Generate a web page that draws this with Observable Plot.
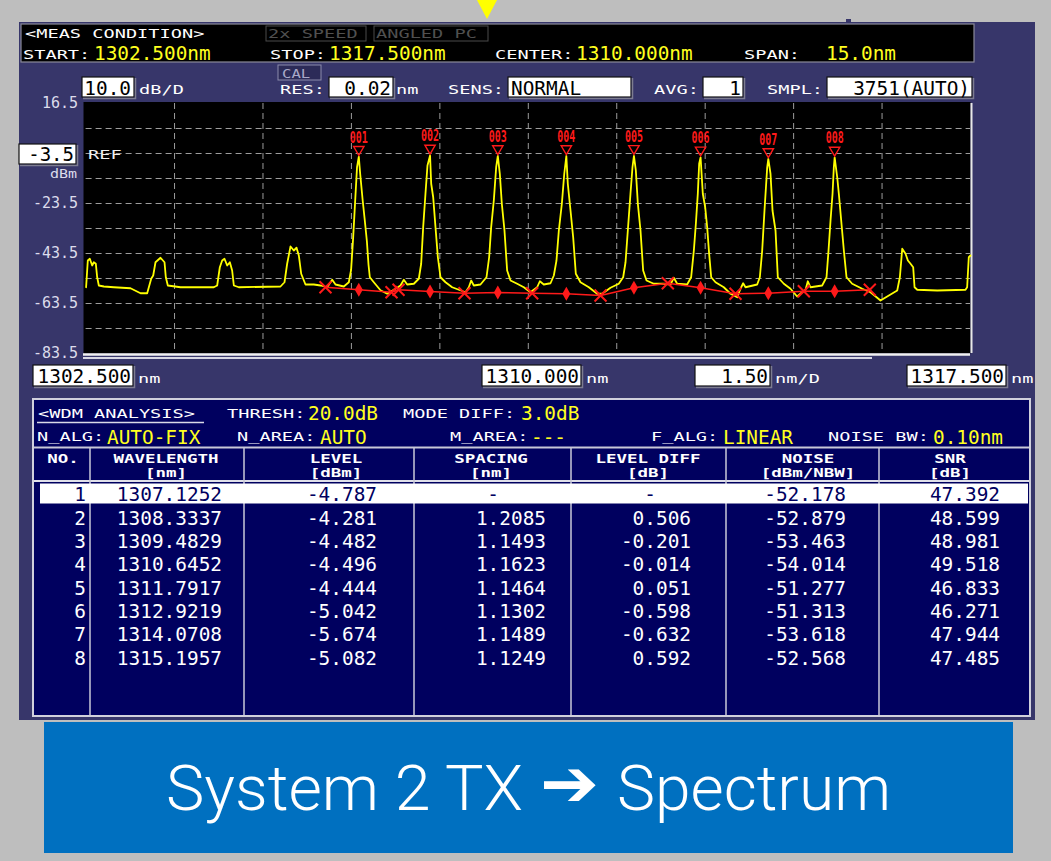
<!DOCTYPE html>
<html><head><meta charset="utf-8">
<script src="https://cdn.jsdelivr.net/npm/d3@7"></script>
<script src="https://cdn.jsdelivr.net/npm/@observablehq/plot@0.6"></script>
<style>
html,body{margin:0;padding:0;background:#bebebe;}
#wrap{position:relative;width:1051px;height:861px;overflow:hidden;background:#bebebe;}
#wrap svg{position:absolute;left:0;top:0;}
</style></head><body><div id="wrap"></div>
<script>
const MONO = "'DejaVu Sans Mono', 'Liberation Mono', monospace";

// ---- axis / scale values ----
const xDomain = [1302.5, 1317.5];
const yDomain = [-83.5, 16.5];
const xGrid = [1304, 1305.5, 1307, 1308.5, 1310, 1311.5, 1313, 1314.5, 1316];
const yGrid = [6.5, -3.5, -13.5, -23.5, -33.5, -43.5, -53.5, -63.5, -73.5];
const yTickLabels = [16.5, -23.5, -43.5, -63.5, -83.5];
const xTickLabels = ["1302.500", "1310.000", "1317.500"];
const refLevel = "-3.5";
const scaleDiv = "10.0";
const spanDiv = "1.50";

// ---- measurement condition ----
const measLabels = ["START:", "STOP:", "CENTER:", "SPAN:"];
const measValues = ["1302.500nm", "1317.500nm", "1310.000nm", "15.0nm"];
const setLabels = ["RES:", "SENS:", "AVG:", "SMPL:"];
const setValues = ["0.02", "NORMAL", "1", "3751(AUTO)"];

// ---- WDM table ----
const peakNo = [1, 2, 3, 4, 5, 6, 7, 8];
const peakWl = [1307.1252, 1308.3337, 1309.4829, 1310.6452, 1311.7917, 1312.9219, 1314.0708, 1315.1957];
const peakLevel = [-4.787, -4.281, -4.482, -4.496, -4.444, -5.042, -5.674, -5.082];
const wlText = ["1307.1252", "1308.3337", "1309.4829", "1310.6452", "1311.7917", "1312.9219", "1314.0708", "1315.1957"];
const levelText = ["-4.787", "-4.281", "-4.482", "-4.496", "-4.444", "-5.042", "-5.674", "-5.082"];
const spacingText = ["-", "1.2085", "1.1493", "1.1623", "1.1464", "1.1302", "1.1489", "1.1249"];
const levelDiffText = ["-", "0.506", "-0.201", "-0.014", "0.051", "-0.598", "-0.632", "0.592"];
const noiseText = ["-52.178", "-52.879", "-53.463", "-54.014", "-51.277", "-51.313", "-53.618", "-52.568"];
const snrText = ["47.392", "48.599", "48.981", "49.518", "46.833", "46.271", "47.944", "47.485"];
const colHead1 = ["NO.", "WAVELENGTH", "LEVEL", "SPACING", "LEVEL DIFF", "NOISE", "SNR"];
const colHead2 = ["", "[nm]", "[dBm]", "[nm]", "[dB]", "[dBm/NBW]", "[dB]"];

// ---- noise estimation points (read from the display) ----
const noiseAtPeakDb = [-58.0, -58.7, -59.1, -59.6, -57.2, -57.2, -59.4, -58.6];
const noiseXWl = [1306.560, 1307.680, 1307.799, 1308.918, 1310.066, 1311.225, 1312.366, 1313.514, 1314.673, 1315.792];
const noiseXDb = [-57.0, -59.0, -58.0, -59.4, -59.4, -60.3, -55.4, -59.6, -58.6, -58.0];

// ---- spectrum trace [nm, dBm] read from the display ----
const trace = [
[1302.500,-57.0],[1302.529,-46.3],[1302.563,-45.6],[1302.603,-48.3],[1302.631,-47.0],[1302.665,-47.6],
[1302.688,-53.0],[1302.716,-56.3],[1302.801,-56.7],[1302.970,-57.0],[1303.253,-57.4],[1303.423,-59.4],
[1303.536,-59.4],[1303.564,-57.0],[1303.604,-53.6],[1303.638,-52.3],[1303.677,-47.0],[1303.762,-45.2],
[1303.830,-47.0],[1303.852,-53.0],[1303.886,-56.3],[1304.101,-57.0],[1304.666,-57.0],[1304.723,-56.3],
[1304.768,-49.0],[1304.808,-46.3],[1304.847,-45.6],[1304.893,-48.3],[1304.938,-47.0],[1304.977,-50.3],
[1305.006,-56.3],[1305.090,-57.0],[1305.797,-56.7],[1305.865,-55.0],[1305.910,-47.6],[1305.967,-40.7],
[1306.023,-42.3],[1306.069,-41.2],[1306.108,-44.3],[1306.148,-51.6],[1306.221,-55.9],[1306.362,-55.9],
[1306.476,-56.3],[1306.589,-57.0],[1306.674,-54.0],[1306.730,-55.9],[1306.871,-56.7],[1306.956,-55.0],
[1306.995,-50.0],[1307.030,-37.0],[1307.064,-22.3],[1307.095,-9.0],[1307.1252,-4.787],[1307.150,-12.0],
[1307.190,-22.0],[1307.230,-31.0],[1307.262,-38.5],[1307.290,-48.0],[1307.312,-53.0],[1307.380,-55.0],
[1307.493,-58.2],[1307.606,-59.6],[1307.719,-58.0],[1307.832,-56.3],[1307.889,-54.0],[1307.946,-55.9],
[1308.059,-55.6],[1308.143,-53.6],[1308.183,-47.6],[1308.217,-33.0],[1308.256,-19.6],[1308.290,-8.3],
[1308.3337,-4.281],[1308.353,-15.6],[1308.387,-21.0],[1308.426,-33.0],[1308.466,-45.0],[1308.511,-53.0],
[1308.596,-55.0],[1308.709,-57.0],[1308.822,-58.0],[1308.935,-59.0],[1308.991,-57.0],[1309.031,-54.3],
[1309.076,-56.3],[1309.189,-55.9],[1309.291,-53.0],[1309.336,-45.0],[1309.370,-33.0],[1309.415,-22.3],
[1309.455,-9.0],[1309.4829,-4.482],[1309.517,-11.6],[1309.551,-23.6],[1309.596,-34.3],[1309.641,-50.3],
[1309.698,-54.3],[1309.811,-55.6],[1309.924,-57.0],[1310.037,-59.0],[1310.150,-57.0],[1310.196,-54.6],
[1310.263,-55.9],[1310.377,-55.4],[1310.433,-52.3],[1310.478,-46.3],[1310.518,-34.3],[1310.569,-23.6],
[1310.610,-11.6],[1310.6452,-4.496],[1310.670,-15.6],[1310.716,-26.3],[1310.761,-37.0],[1310.806,-51.6],
[1310.885,-55.0],[1311.027,-57.0],[1311.168,-59.6],[1311.253,-59.6],[1311.394,-57.2],[1311.535,-55.6],
[1311.609,-53.0],[1311.649,-47.0],[1311.688,-34.3],[1311.733,-19.6],[1311.767,-9.0],[1311.7917,-4.444],
[1311.824,-10.3],[1311.858,-23.6],[1311.903,-34.3],[1311.948,-50.3],[1312.005,-54.3],[1312.129,-55.6],
[1312.299,-55.6],[1312.412,-55.9],[1312.468,-53.2],[1312.525,-55.6],[1312.694,-55.9],[1312.762,-53.0],
[1312.808,-42.3],[1312.842,-31.6],[1312.875,-19.6],[1312.898,-7.6],[1312.9219,-5.042],[1312.960,-19.6],
[1313.000,-25.0],[1313.034,-33.0],[1313.067,-43.6],[1313.102,-53.0],[1313.175,-55.0],[1313.316,-57.0],
[1313.429,-59.6],[1313.543,-61.0],[1313.599,-57.6],[1313.644,-55.4],[1313.684,-57.0],[1313.882,-55.9],
[1313.927,-53.0],[1313.967,-42.3],[1314.006,-26.3],[1314.052,-9.0],[1314.0708,-5.674],[1314.108,-11.6],
[1314.142,-26.3],[1314.193,-34.3],[1314.232,-53.0],[1314.334,-55.6],[1314.447,-57.6],[1314.560,-60.7],
[1314.645,-59.0],[1314.702,-58.0],[1314.741,-54.6],[1314.786,-57.0],[1314.984,-56.3],[1315.058,-53.0],
[1315.092,-42.3],[1315.126,-30.3],[1315.160,-19.6],[1315.182,-9.0],[1315.1957,-5.082],[1315.239,-12.9],
[1315.267,-19.6],[1315.307,-30.3],[1315.352,-42.3],[1315.397,-53.0],[1315.493,-55.6],[1315.663,-57.6],
[1315.804,-59.0],[1315.974,-62.3],[1316.087,-60.7],[1316.257,-58.3],[1316.302,-53.0],[1316.342,-41.6],
[1316.398,-43.6],[1316.438,-46.3],[1316.483,-47.6],[1316.528,-49.0],[1316.551,-57.0],[1316.597,-58.0],
[1316.936,-58.3],[1317.415,-58.0],[1317.443,-57.0],[1317.471,-45.0],[1317.500,-44.3]
];

// ---- derived tables for Plot ----
const traceData = trace.map(([wl, db]) => ({wl, db}));
const peaks = peakNo.map((n, i) => ({no: n, wl: peakWl[i], level: peakLevel[i], noise: noiseAtPeakDb[i], label: String(n).padStart(3, "0")}));
const xMarks = noiseXWl.map((wl, i) => ({wl, db: noiseXDb[i]}));
const noiseLine = [...xMarks, ...peaks.map(p => ({wl: p.wl, db: p.noise}))].sort((a, b) => a.wl - b.wl);

const RED = "#ff1a1a";
const triDown = {
  draw(ctx, size) {
    const r = Math.sqrt(size / Math.PI);
    ctx.moveTo(-r * 1.2, -r * 0.75);
    ctx.lineTo(r * 1.2, -r * 0.75);
    ctx.lineTo(0, r * 1.3);
    ctx.closePath();
  }
};

const wrap = document.getElementById("wrap");

// ---- panel background layer ----
const bg = d3.create("svg").attr("width", 1051).attr("height", 861);
bg.append("polygon").attr("points", "477,0 497,0 487,19").attr("fill", "#ffff00");
bg.append("rect").attr("x", 19).attr("y", 22).attr("width", 1016).attr("height", 698).attr("fill", "#37366a");
bg.append("rect").attr("x", 846).attr("y", 19).attr("width", 5).attr("height", 4).attr("fill", "#37366a");
wrap.appendChild(bg.node());

// ---- the chart ----
const chart = Plot.plot({
  width: 1051, height: 400,
  marginTop: 103, marginBottom: 47, marginLeft: 85.6, marginRight: 81,
  x: {domain: xDomain, axis: null},
  y: {domain: yDomain, label: null},
  style: {background: "transparent", overflow: "visible"},
  marks: [
    Plot.frame({fill: "black", insetLeft: -2.6, insetTop: -1.5}),
    Plot.gridX(xGrid, {stroke: "#9c9c9c", strokeOpacity: 1, strokeDasharray: "6,4"}),
    Plot.gridY(yGrid, {stroke: "#9c9c9c", strokeOpacity: 1, strokeDasharray: "6,4"}),
    Plot.ruleX([xDomain[1]], {stroke: "#e8e8e8", strokeWidth: 2, dx: 1}),
    Plot.ruleY([yDomain[0]], {stroke: "#f0f0f0", strokeWidth: 2.5, dy: 1, insetLeft: -2.6}),
    Plot.line(traceData, {x: "wl", y: "db", stroke: "#ffff00", strokeWidth: 1.8}),
    Plot.line(noiseLine, {x: "wl", y: "db", stroke: RED, strokeWidth: 1.5}),
    Plot.dot(peaks, {x: "wl", y: "noise", symbol: "diamond", r: 4.2, fill: RED}),
    Plot.dot(xMarks, {x: "wl", y: "db", symbol: "times", r: 5.5, stroke: RED, strokeWidth: 2}),
    Plot.dot(peaks, {x: "wl", y: "level", symbol: triDown, r: 4.3, stroke: RED, fill: "none", strokeWidth: 1.4, dy: -7}),
    Plot.text(peaks, {x: "wl", y: "level", text: "label", dy: -19, fill: RED, fontSize: 15, fontWeight: "bold", fontFamily: MONO}),
    Plot.axisY(yTickLabels, {tickSize: 0, tickPadding: 8, fill: "#dcdcec", fontSize: 15, fontFamily: MONO, tickFormat: d => d.toFixed(1), label: null})
  ]
});
d3.select(chart).selectAll('g[aria-label="text"] text').attr("textLength", 18).attr("lengthAdjust", "spacingAndGlyphs");
wrap.appendChild(chart);

// ---- overlay layer (instrument UI, table, caption) ----
const ov = d3.create("svg").attr("width", 1051).attr("height", 861);
function txt(g, x, y, s, o = {}) {
  const t = g.append("text")
    .attr("transform", `translate(${x},${y}) scale(${o.sx || 1},${o.sy || 1})`)
    .attr("font-family", o.family || MONO)
    .attr("font-size", o.size || 13)
    .attr("fill", o.fill || "#ffffff")
    .attr("text-anchor", o.anchor || "start")
    .text(s);
  if (o.weight) t.attr("font-weight", o.weight);
  return t;
}
const LBL = {size: 12.5, sx: 1.49};
const SEG = {size: 20, sx: 0.97, sy: 1.0};
const SEGT = {size: 19.6, sx: 0.99, sy: 1.0};
const HDR = {size: 11.5, sx: 1.52, weight: "bold"};
const YEL = "#ffff1e";

function box(x, y, w, h) {
  ov.append("rect").attr("x", x).attr("y", y).attr("width", w).attr("height", h).attr("fill", "#ffffff").attr("stroke", "#111").attr("stroke-width", 1.2);
  ov.append("path").attr("d", `M${x + w + 1.5},${y + 1}V${y + h + 1.5}H${x + 1}`).attr("stroke", "#7c7c90").attr("stroke-width", 1.5).attr("fill", "none");
}

// header black box
ov.append("rect").attr("x", 21).attr("y", 24).attr("width", 953).attr("height", 38).attr("fill", "#000").attr("stroke", "#8a8a9a").attr("stroke-width", 1.2);
txt(ov, 25, 38, "<MEAS CONDITION>", LBL);
ov.append("rect").attr("x", 266).attr("y", 26).attr("width", 100).attr("height", 15).attr("fill", "none").attr("stroke", "#4a4a4a");
ov.append("rect").attr("x", 374).attr("y", 26).attr("width", 114).attr("height", 15).attr("fill", "none").attr("stroke", "#4a4a4a");
txt(ov, 268, 38, "2x SPEED", {...LBL, fill: "#505050"});
txt(ov, 376, 38, "ANGLED PC", {...LBL, fill: "#505050"});
const measLX = [23, 270, 495, 744], measVX = [94, 329, 576, 826];
measLabels.forEach((s, i) => {
  txt(ov, measLX[i], 59, s, LBL);
  txt(ov, measVX[i], 60, measValues[i], {...SEG, fill: YEL});
});

// settings row
box(82, 77, 52, 20); txt(ov, 131, 95, scaleDiv, {...SEGT, fill: "#000", anchor: "end"});
txt(ov, 139, 94, "dB/D", LBL);
ov.append("rect").attr("x", 278).attr("y", 65).attr("width", 43).attr("height", 15).attr("fill", "#2c2b58").attr("stroke", "#8c8cac");
txt(ov, 282, 78, "CAL", {size: 12.5, sx: 1.25, fill: "#a8a8c8"});
const setLX = [280, 448, 654, 767];
const setBox = [[329, 64], [508, 123], [703, 40], [827, 145]];
setLabels.forEach((s, i) => {
  txt(ov, setLX[i], 94, s, LBL);
  const [bx, bw] = setBox[i];
  box(bx, 77, bw, 20);
  if (i === 1) txt(ov, bx + 3, 95, setValues[i], {...SEGT, fill: "#000"});
  else txt(ov, bx + bw - 2, 95, setValues[i], {...SEGT, fill: "#000", anchor: "end"});
});
txt(ov, 396, 94, "nm", LBL);

// ref level
box(19, 144, 57, 20); txt(ov, 74, 161, refLevel, {size: 19, sx: 1, fill: "#000", anchor: "end"});
txt(ov, 88, 159, "REF", {...LBL, fill: "#f0f0f0"});
txt(ov, 77, 178, "dBm", {size: 12, sx: 1.25, fill: "#dcdcec", anchor: "end"});

// scroll bar under plot
ov.append("rect").attr("x", 83).attr("y", 357).attr("width", 789).attr("height", 2).attr("fill", "#d8d8e4");

// x labels
const xLab = [[33, 100, "nm"], [482, 99, "nm"], [907, 99, "nm"]];
xTickLabels.forEach((s, i) => {
  const [bx, bw, u] = xLab[i];
  box(bx, 365, bw, 21);
  txt(ov, bx + bw - 2, 383, s, {...SEGT, fill: "#000", anchor: "end"});
  txt(ov, bx + bw + 5, 383, u, LBL);
});
box(695, 365, 75, 21);
txt(ov, 768, 383, spanDiv, {...SEGT, fill: "#000", anchor: "end"});
txt(ov, 775, 383, "nm/D", LBL);

// ---- WDM table ----
ov.append("rect").attr("x", 33).attr("y", 399).attr("width", 997).attr("height", 317).attr("fill", "#00005f").attr("stroke", "#d0d0dc").attr("stroke-width", 2);
txt(ov, 38, 418, "<WDM ANALYSIS>", LBL);
ov.append("line").attr("x1", 37).attr("x2", 204).attr("y1", 422.5).attr("y2", 422.5).attr("stroke", "#d8d8e8").attr("stroke-width", 1.5);
txt(ov, 227, 418, "THRESH:", LBL); txt(ov, 308, 420, "20.0dB", {...SEG, fill: YEL});
txt(ov, 403, 418, "MODE DIFF:", LBL); txt(ov, 521, 420, "3.0dB", {...SEG, fill: YEL});
const r2 = [[37, "N_ALG:", 107, "AUTO-FIX"], [237, "N_AREA:", 320, "AUTO"], [450, "M_AREA:", 531, "---"], [651, "F_ALG:", 723, "LINEAR"], [828, "NOISE BW:", 933, "0.10nm"]];
r2.forEach(([lx, l, vx, v]) => { txt(ov, lx, 441, l, LBL); txt(ov, vx, 444, v, {...SEG, fill: YEL}); });
ov.append("line").attr("x1", 34).attr("x2", 1029).attr("y1", 447.5).attr("y2", 447.5).attr("stroke", "#c8c8d8").attr("stroke-width", 2);
ov.append("line").attr("x1", 34).attr("x2", 1029).attr("y1", 481).attr("y2", 481).attr("stroke", "#e0e0ea").attr("stroke-width", 2);
const colLines = [90, 244, 414, 571, 726, 879];
colLines.forEach(x => ov.append("line").attr("x1", x).attr("x2", x).attr("y1", 448).attr("y2", 715).attr("stroke", "#c8c8d8").attr("stroke-width", 1.5));
const headX = [63, 166, 336, 491, 648, 808, 950];
colHead1.forEach((s, i) => {
  txt(ov, headX[i], 462.5, s, {...HDR, anchor: "middle"});
  if (colHead2[i]) txt(ov, headX[i], 476.5, colHead2[i], {...HDR, anchor: "middle"});
});
ov.append("rect").attr("x", 40).attr("y", 483.5).attr("width", 988).attr("height", 20).attr("fill", "#ffffff");
const colEnd = [86, 222, 377, 546, 691, 846, 1000];
const dashX = {3: 493, 4: 650};
peakNo.forEach((n, i) => {
  const y = 501.4 + i * 23.33;
  const fill = i === 0 ? "#00005f" : "#ffffff";
  const vals = [String(n), wlText[i], levelText[i], spacingText[i], levelDiffText[i], noiseText[i], snrText[i]];
  vals.forEach((v, c) => {
    if (v === "-") txt(ov, dashX[c], y, v, {...SEGT, fill, anchor: "middle"});
    else txt(ov, colEnd[c], y, v, {...SEGT, fill, anchor: "end"});
  });
});

// ---- caption ----
ov.append("rect").attr("x", 44).attr("y", 722).attr("width", 969).attr("height", 131).attr("fill", "#0070c0");
const CAP = "Roboto, 'Liberation Sans', sans-serif";
ov.append("text").attr("x", 166).attr("y", 810).attr("font-family", CAP).attr("font-weight", 300)
  .attr("font-size", 63).attr("fill", "#ffffff").attr("textLength", 357).attr("lengthAdjust", "spacingAndGlyphs")
  .text("System 2 TX");
ov.append("text").attr("x", 540).attr("y", 806).attr("font-family", "'DejaVu Sans', sans-serif").attr("font-weight", "bold")
  .attr("font-size", 66).attr("fill", "#ffffff").attr("textLength", 59).attr("lengthAdjust", "spacingAndGlyphs")
  .text("\u2794");
ov.append("text").attr("x", 617).attr("y", 810).attr("font-family", CAP).attr("font-weight", 300)
  .attr("font-size", 63).attr("fill", "#ffffff").attr("textLength", 274).attr("lengthAdjust", "spacingAndGlyphs")
  .text("Spectrum");

wrap.appendChild(ov.node());
</script></body></html>
